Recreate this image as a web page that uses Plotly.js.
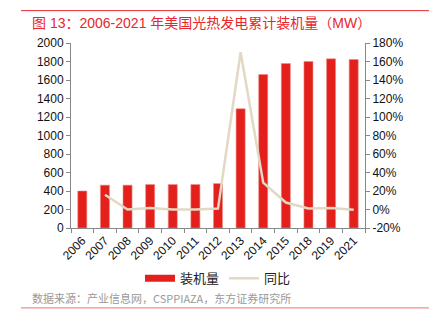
<!DOCTYPE html>
<html><head><meta charset="utf-8">
<script src="https://cdn.plot.ly/plotly-3.0.1.min.js"></script>
<style>html,body{margin:0;padding:0;background:#fff}#c{width:429px;height:329px}</style>
</head><body><div id="c"></div>
<script>
const years = ["2006","2007","2008","2009","2010","2011","2012","2013","2014","2015","2018","2019","2021"];
const capacity = [400,463,463,470,470,470,480,1289,1659,1778,1800,1829,1822];
const yoy = [null,16,0,1.5,0,0,1,170,29,7.5,1.2,1.6,-0.4];
const leftTicks = [0,200,400,600,800,1000,1200,1400,1600,1800,2000];
const rightTicks = [-20,0,20,40,60,80,100,120,140,160,180];

const font = "Liberation Sans, Arial, Noto Sans CJK SC, sans-serif";
const cjk = "Noto Sans CJK SC, sans-serif";
const titleFont = "Liberation Sans, Noto Sans CJK SC, sans-serif";

const data = [
  {type:'bar', x:years, y:capacity, name:'装机量', showlegend:false, marker:{color:'#e3201b', line:{color:'#f08a85', width:0.6}}, width:0.4},
  {type:'scatter', mode:'lines', x:[null], y:[null], name:'装机量', line:{color:'#e3201b', width:7}, hoverinfo:'skip'},
  {type:'scatter', mode:'lines', x:years, y:yoy, name:'同比', yaxis:'y2', line:{color:'#e2d8c3', width:2.5}, connectgaps:false}
];
const layout = {
  width:429, height:329,
  margin:{l:71, r:64, t:43, b:101},
  paper_bgcolor:'#fff', plot_bgcolor:'#fff',
  showlegend:true,
  legend:{orientation:'h', x:0.5, xanchor:'center', y:-0.272, yanchor:'middle', itemwidth:30, font:{family:cjk, size:13, color:'#222'}, traceorder:'normal'},
  xaxis:{type:'category', tickangle:-45, ticks:'outside', tickson:'boundaries', ticklen:4, tickcolor:'#888', showline:true, linecolor:'#888', linewidth:1, showgrid:false, tickfont:{family:font, size:12, color:'#111'}, zeroline:false},
  yaxis:{range:[0,2000], tickvals:leftTicks, ticks:'outside', ticklen:4, tickcolor:'#888', showline:true, linecolor:'#888', showgrid:false, zeroline:false, tickfont:{family:font, size:12, color:'#111'}},
  yaxis2:{overlaying:'y', side:'right', range:[-20,180], tickvals:rightTicks, ticktext:rightTicks.map(v=>v+'%'), ticks:'outside', ticklen:4, tickcolor:'#888', showline:true, linecolor:'#888', showgrid:false, zeroline:false, tickfont:{family:font, size:12, color:'#111'}},
  shapes:[
    {type:'line', xref:'paper', yref:'paper', x0:-0.17, x1:1.22, y0:1.175, y1:1.175, line:{color:'#e8262b', width:1}},
    {type:'line', xref:'paper', yref:'paper', x0:-0.17, x1:1.22, y0:-0.432, y1:-0.432, line:{color:'#f07070', width:1}}
  ],
  annotations:[
    {xref:'paper', yref:'paper', x:-0.139, y:1.11, xanchor:'left', yanchor:'middle', showarrow:false, text:'图 13：2006-2021 年美国光热发电累计装机量（MW）', font:{family:titleFont, size:14, color:'#e8262b'}},
    {xref:'paper', yref:'paper', x:-0.139, y:-0.378, xanchor:'left', yanchor:'middle', showarrow:false, text:'数据来源：产业信息网，CSPPIAZA，东方证券研究所', font:{family:cjk, size:11, color:'#999'}}
  ]
};
Plotly.newPlot('c', data, layout, {displayModeBar:false, staticPlot:true});
</script></body></html>
